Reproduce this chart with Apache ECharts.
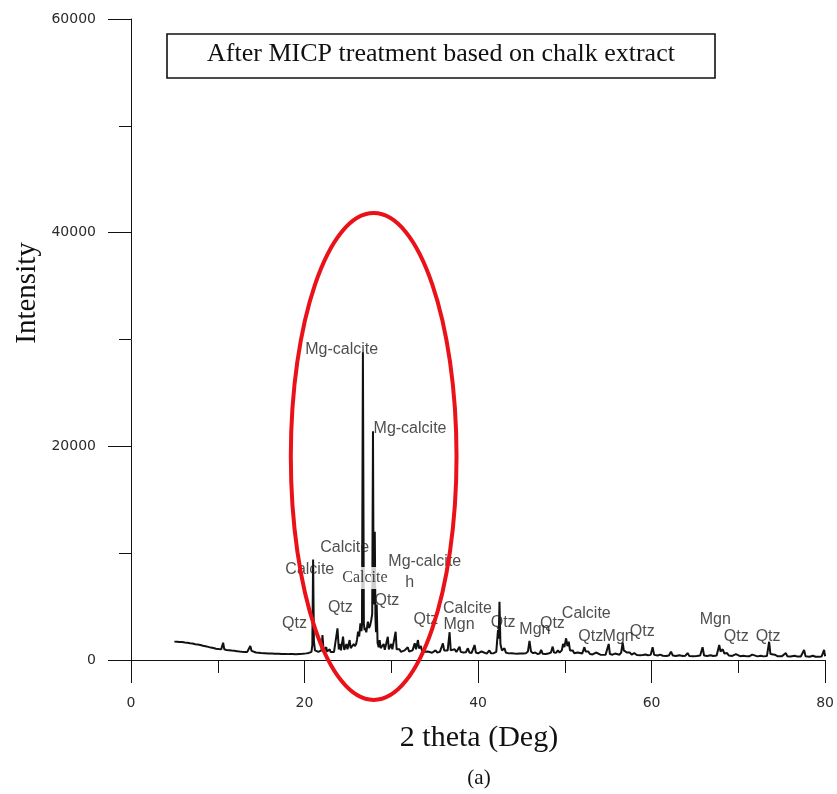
<!DOCTYPE html>
<html>
<head>
<meta charset="utf-8">
<script src="https://cdn.jsdelivr.net/npm/echarts@6/dist/echarts.min.js"></script>
<style>
  html, body { margin: 0; padding: 0; background: #fff; }
  #chart { width: 837px; height: 794px; }
</style>
</head>
<body>
<div id="chart"></div>
<script>
// XRD scan after MICP treatment: [2θ (deg), intensity (counts)]
const scan = [
  [5.0,1720],[5.3,1700],[5.6,1680],[5.9,1690],[6.2,1640],[6.5,1620],[6.8,1560],[7.1,1540],[7.4,1480],[7.7,1450],
  [8.0,1400],[8.3,1330],[8.6,1280],[8.9,1230],[9.2,1160],[9.5,1120],[9.8,1060],[10.1,1020],[10.4,1000],[10.5,1050],
  [10.62,1620],[10.75,1000],[11.0,940],[11.3,920],[11.6,880],[11.9,860],[12.2,830],[12.5,790],[12.8,770],[13.1,760],
  [13.4,760],[13.6,800],[13.75,1310],[13.9,850],[14.1,720],[14.4,700],[14.7,680],[15.0,660],[15.4,640],[15.8,610],
  [16.2,600],[16.6,580],[17.0,590],[17.4,560],[17.8,570],[18.2,550],[18.6,560],[19.0,540],[19.4,560],[19.8,580],
  [20.2,620],[20.5,660],[20.8,760],[20.9,1400],[20.99,9400],[21.08,1800],[21.2,900],[21.4,800],[21.6,760],[21.8,780],
  [21.95,900],[22.07,2340],[22.2,850],[22.35,760],[22.5,1200],[22.6,800],[22.75,780],[22.9,1000],[23.0,760],[23.2,720],
  [23.4,760],[23.6,900],[23.8,2970],[23.95,1000],[24.06,1500],[24.2,900],[24.32,950],[24.44,2180],[24.58,950],[24.72,1000],
  [24.83,1500],[24.95,1000],[25.08,1100],[25.2,1870],[25.32,1100],[25.5,1150],[25.67,1500],[25.8,1300],[25.95,1500],[26.05,1900],
  [26.17,2650],[26.3,2200],[26.44,3430],[26.56,2700],[26.62,3200],[26.73,28800],[26.84,3400],[26.92,2800],[27.0,3000],[27.12,2600],
  [27.2,3000],[27.3,3590],[27.42,3000],[27.55,3200],[27.68,3700],[27.8,4300],[27.89,21400],[27.97,5200],[28.04,6000],[28.1,12000],
  [28.17,4000],[28.24,2600],[28.32,5200],[28.42,1600],[28.55,1200],[28.66,1870],[28.78,1100],[28.95,1000],[29.12,1500],[29.25,950],
  [29.45,1000],[29.6,2180],[29.72,1000],[29.85,1100],[30.0,1500],[30.12,1000],[30.3,1000],[30.5,2650],[30.62,1000],[30.8,850],
  [30.96,1000],[31.1,760],[31.3,700],[31.54,900],[31.7,750],[31.9,1200],[32.05,800],[32.25,780],[32.45,900],[32.7,1560],
  [32.85,1000],[33.07,1870],[33.2,1100],[33.4,1300],[33.55,850],[33.8,760],[34.0,720],[34.2,800],[34.4,700],[34.7,680],
  [35.1,900],[35.3,700],[35.6,760],[35.95,1560],[36.1,900],[36.3,800],[36.5,900],[36.72,2600],[36.85,900],[37.05,760],
  [37.3,1000],[37.5,740],[37.7,780],[37.87,1250],[38.0,760],[38.3,700],[38.6,720],[38.83,1100],[39.0,700],[39.25,650],
  [39.45,700],[39.6,1400],[39.75,700],[40.0,620],[40.4,800],[40.6,620],[41.0,600],[41.3,900],[41.5,620],[41.8,640],
  [42.1,760],[42.3,2800],[42.38,2000],[42.47,5460],[42.58,1500],[42.75,900],[42.9,800],[43.05,1090],[43.2,700],[43.5,620],
  [43.8,640],[44.0,750],[44.2,600],[44.5,580],[44.8,600],[45.0,700],[45.2,600],[45.5,620],[45.75,800],[45.93,1800],
  [46.1,800],[46.35,640],[46.6,700],[46.85,560],[47.1,600],[47.27,940],[47.45,580],[47.8,560],[48.1,600],[48.4,700],
  [48.6,1250],[48.75,700],[49.0,680],[49.2,900],[49.4,700],[49.65,900],[49.8,1500],[49.95,1200],[50.15,2030],[50.3,1300],
  [50.45,1710],[50.6,900],[50.75,760],[50.9,900],[51.1,640],[51.3,600],[51.5,700],[51.7,560],[52.0,600],[52.26,1200],
  [52.4,800],[52.55,700],[52.7,800],[52.9,560],[53.2,520],[53.4,560],[53.6,700],[53.8,520],[54.1,500],[54.4,480],
  [54.7,500],[54.9,600],[55.06,1500],[55.2,560],[55.5,500],[55.8,600],[56.0,460],[56.3,500],[56.5,700],[56.67,1620],
  [56.8,900],[57.0,1000],[57.15,700],[57.5,700],[57.7,500],[58.0,650],[58.3,460],[58.7,440],[59.0,460],[59.3,520],
  [59.6,450],[59.9,480],[60.12,1190],[60.3,480],[60.7,420],[61.0,500],[61.3,400],[61.7,380],[62.0,420],[62.24,780],
  [62.45,420],[62.8,380],[63.2,450],[63.6,380],[63.9,400],[64.15,650],[64.35,380],[64.8,360],[65.2,380],[65.6,420],
  [65.88,1190],[66.05,420],[66.4,380],[66.8,450],[67.1,380],[67.5,420],[67.8,1400],[67.95,800],[68.2,1000],[68.4,600],
  [68.7,650],[68.9,420],[69.3,380],[69.72,550],[69.9,380],[70.2,360],[70.6,400],[71.0,340],[71.3,360],[71.6,500],
  [71.8,360],[72.2,340],[72.6,400],[72.9,340],[73.3,380],[73.55,1710],[73.7,560],[73.9,420],[74.2,500],[74.5,360],
  [75.0,340],[75.48,650],[75.65,340],[76.0,320],[76.5,400],[76.8,320],[77.2,330],[77.58,940],[77.75,340],[78.2,300],
  [78.6,400],[78.9,300],[79.3,310],[79.6,330],[79.88,940],[80.0,350]
];

// Phase annotations: [2θ at text start, intensity at text middle, text]
const phaseLabels = [
  [20.03, 29080, 'Mg-calcite'],
  [27.90, 21690, 'Mg-calcite'],
  [21.76, 10550, 'Calcite'],
  [17.73, 8420, 'Calcite'],
  [29.60, 9170, 'Mg-calcite'],
  [31.55, 7210, 'h'],
  [17.35, 3435, 'Qtz'],
  [22.64, 4930, 'Qtz'],
  [28.00, 5520, 'Qtz'],
  [32.50, 3744, 'Qtz'],
  [35.90, 4840, 'Calcite'],
  [35.95, 3280, 'Mgn'],
  [41.40, 3490, 'Qtz'],
  [47.08, 3400, 'Qtz'],
  [44.70, 2810, 'Mgn'],
  [49.60, 4300, 'Calcite'],
  [51.49, 2180, 'Qtz'],
  [54.30, 2180, 'Mgn'],
  [57.44, 2650, 'Qtz'],
  [65.50, 3810, 'Mgn'],
  [68.26, 2180, 'Qtz'],
  [71.94, 2180, 'Qtz']
];

// Calcite tag printed on a white patch
const boxedLabels = [
  [23.83, 7675, 'Calcite']
];

// Axis ticks
const xTickValues = [0, 20, 40, 60, 80];
const yTickValues = [0, 20000, 40000, 60000];

// Highlight ellipse around the main reflections (data units)
const highlight = { center: [27.97, 19050], rx: 9.55, ry: 22790 };

const chart = echarts.init(document.getElementById('chart'), null, { renderer: 'canvas' });

const axisColor = '#111';
const tickFont = { fontFamily: 'DejaVu Sans', fontSize: 14, color: '#2b2b2b', formatter: v => String(v) };

const option = {
  animation: false,
  backgroundColor: '#fff',
  grid: { left: 131, right: 11, top: 19, bottom: 134, containLabel: false },
  xAxis: {
    type: 'value',
    min: xTickValues[0],
    max: xTickValues[xTickValues.length - 1],
    interval: xTickValues[1] - xTickValues[0],
    axisLine: { show: true, onZero: false, lineStyle: { color: axisColor, width: 1 } },
    axisTick: { show: true, length: 23, lineStyle: { color: axisColor, width: 1 } },
    minorTick: { show: true, splitNumber: 2, length: 13, lineStyle: { color: axisColor, width: 1 } },
    splitLine: { show: false },
    minorSplitLine: { show: false },
    axisLabel: Object.assign({ margin: 36 }, tickFont)
  },
  yAxis: {
    type: 'value',
    min: yTickValues[0],
    max: yTickValues[yTickValues.length - 1],
    interval: yTickValues[1] - yTickValues[0],
    axisLine: { show: true, onZero: false, lineStyle: { color: axisColor, width: 1 } },
    axisTick: { show: true, length: 23, lineStyle: { color: axisColor, width: 1 } },
    minorTick: { show: true, splitNumber: 2, length: 12, lineStyle: { color: axisColor, width: 1 } },
    splitLine: { show: false },
    minorSplitLine: { show: false },
    axisLabel: Object.assign({ margin: 35 }, tickFont)
  },
  series: [
    {
      type: 'line',
      data: scan,
      symbol: 'none',
      showSymbol: false,
      sampling: null,
      lineStyle: { color: '#111', width: 2 },
      z: 2
    },
    {
      type: 'scatter',
      data: phaseLabels.map(d => ({ value: [d[0], d[1]], name: d[2] })),
      symbolSize: 1,
      itemStyle: { color: 'rgba(0,0,0,0)' },
      silent: true,
      z: 3,
      label: {
        show: true,
        position: 'right',
        distance: 0,
        formatter: p => p.name,
        fontFamily: 'Liberation Sans, Arial, sans-serif',
        fontSize: 16,
        color: '#222',
        verticalAlign: 'middle'
      }
    },
    {
      type: 'scatter',
      data: boxedLabels.map(d => ({ value: [d[0], d[1]], name: d[2] })),
      symbolSize: 1,
      itemStyle: { color: 'rgba(0,0,0,0)' },
      silent: true,
      z: 5,
      label: {
        show: true,
        position: 'right',
        distance: 0,
        formatter: p => p.name,
        fontFamily: 'Liberation Serif, Times New Roman, serif',
        fontSize: 16,
        color: '#111',
        backgroundColor: '#fff',
        padding: [3, 15, 3, 4],
        verticalAlign: 'middle'
      }
    }
  ]
};

chart.setOption(option);

// Frame with the sample description, axis titles, panel tag and highlight ellipse
const c = chart.convertToPixel({ gridIndex: 0 }, highlight.center);
const e = chart.convertToPixel({ gridIndex: 0 }, [highlight.center[0] + highlight.rx, highlight.center[1] + highlight.ry]);

chart.setOption({
  graphic: [
    {
      type: 'rect',
      shape: { x: 167, y: 34, width: 548, height: 44 },
      style: { fill: '#fff', stroke: '#111', lineWidth: 1.6 },
      z: 10
    },
    {
      type: 'text',
      x: 441, y: 54,
      style: {
        text: 'After MICP treatment based on chalk extract',
        font: '26px "Liberation Serif", "Times New Roman", serif',
        fill: '#111',
        textAlign: 'center',
        textVerticalAlign: 'middle'
      },
      z: 11
    },
    {
      type: 'text',
      x: 27, y: 293,
      rotation: Math.PI / 2,
      style: {
        text: 'Intensity',
        font: '29px "Liberation Serif", "Times New Roman", serif',
        fill: '#111',
        textAlign: 'center',
        textVerticalAlign: 'middle'
      },
      z: 11
    },
    {
      type: 'text',
      x: 479, y: 738,
      style: {
        text: '2 theta (Deg)',
        font: '30px "Liberation Serif", "Times New Roman", serif',
        fill: '#111',
        textAlign: 'center',
        textVerticalAlign: 'middle'
      },
      z: 11
    },
    {
      type: 'text',
      x: 479, y: 778,
      style: {
        text: '(a)',
        font: '21px "Liberation Serif", "Times New Roman", serif',
        fill: '#111',
        textAlign: 'center',
        textVerticalAlign: 'middle'
      },
      z: 11
    },
    {
      type: 'ellipse',
      shape: { cx: c[0], cy: c[1], rx: Math.abs(e[0] - c[0]), ry: Math.abs(c[1] - e[1]) },
      style: { fill: 'none', stroke: '#ea1218', lineWidth: 4 },
      z: 100
    }
  ]
});
</script>
</body>
</html>
